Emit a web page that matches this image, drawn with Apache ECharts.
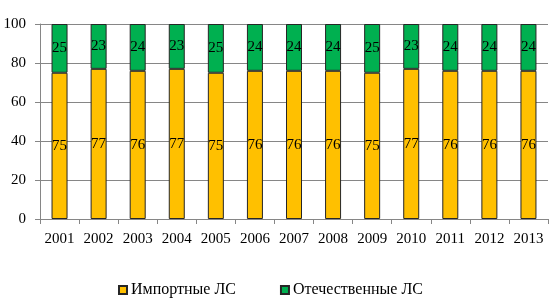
<!DOCTYPE html>
<html><head><meta charset="utf-8">
<script src="https://cdn.jsdelivr.net/npm/echarts@6/dist/echarts.min.js"></script>
<style>html,body{margin:0;padding:0;background:#fff}#c{width:558px;height:308px}</style>
</head><body><div id="c"></div>
<script>
var years = ['2001','2002','2003','2004','2005','2006','2007','2008','2009','2010','2011','2012','2013'];
var imported = [75,77,76,77,75,76,76,76,75,77,76,76,76];
var domestic = [25,23,24,23,25,24,24,24,25,23,24,24,24];
var yTicks = [0,20,40,60,80,100];
var names = ['Импортные ЛС','Отечественные ЛС'];

var font = 'Liberation Serif';
var chart = echarts.init(document.getElementById('c'), null, {renderer:'canvas'});
var lbl = {show:true, position:'inside', color:'#000', fontFamily:font, fontSize:15};
chart.setOption({
  animation:false,
  textStyle:{fontFamily:font},
  grid:{left:40, right:10, top:24, bottom:89, containLabel:false},
  legend:{
    top:277, left:113, itemGap:44, itemWidth:8, itemHeight:8, icon:'rect',
    textStyle:{fontFamily:font, fontSize:16, color:'#000', padding:[0,0,0,-1]},
    data:names
  },
  xAxis:{
    type:'category', data:years,
    axisLine:{lineStyle:{color:'#868686'}},
    axisTick:{show:true, length:5, lineStyle:{color:'#868686'}},
    axisLabel:{color:'#000', fontFamily:font, fontSize:15, margin:13}
  },
  yAxis:{
    type:'value', min:yTicks[0], max:yTicks[yTicks.length-1], interval:20,
    axisLine:{show:true, lineStyle:{color:'#868686'}},
    axisTick:{show:true, length:5, lineStyle:{color:'#868686'}},
    splitLine:{lineStyle:{color:'#868686'}},
    axisLabel:{color:'#000', fontFamily:font, fontSize:15, margin:14}
  },
  series:[
    {name:names[0], type:'bar', stack:'s', data:imported, barWidth:16,
     itemStyle:{color:'#FFC000', borderColor:'#262626', borderWidth:1}, label:lbl},
    {name:names[1], type:'bar', stack:'s', data:domestic, barWidth:16,
     itemStyle:{color:'#00B050', borderColor:'#262626', borderWidth:1}, label:lbl}
  ]
});
</script></body></html>
